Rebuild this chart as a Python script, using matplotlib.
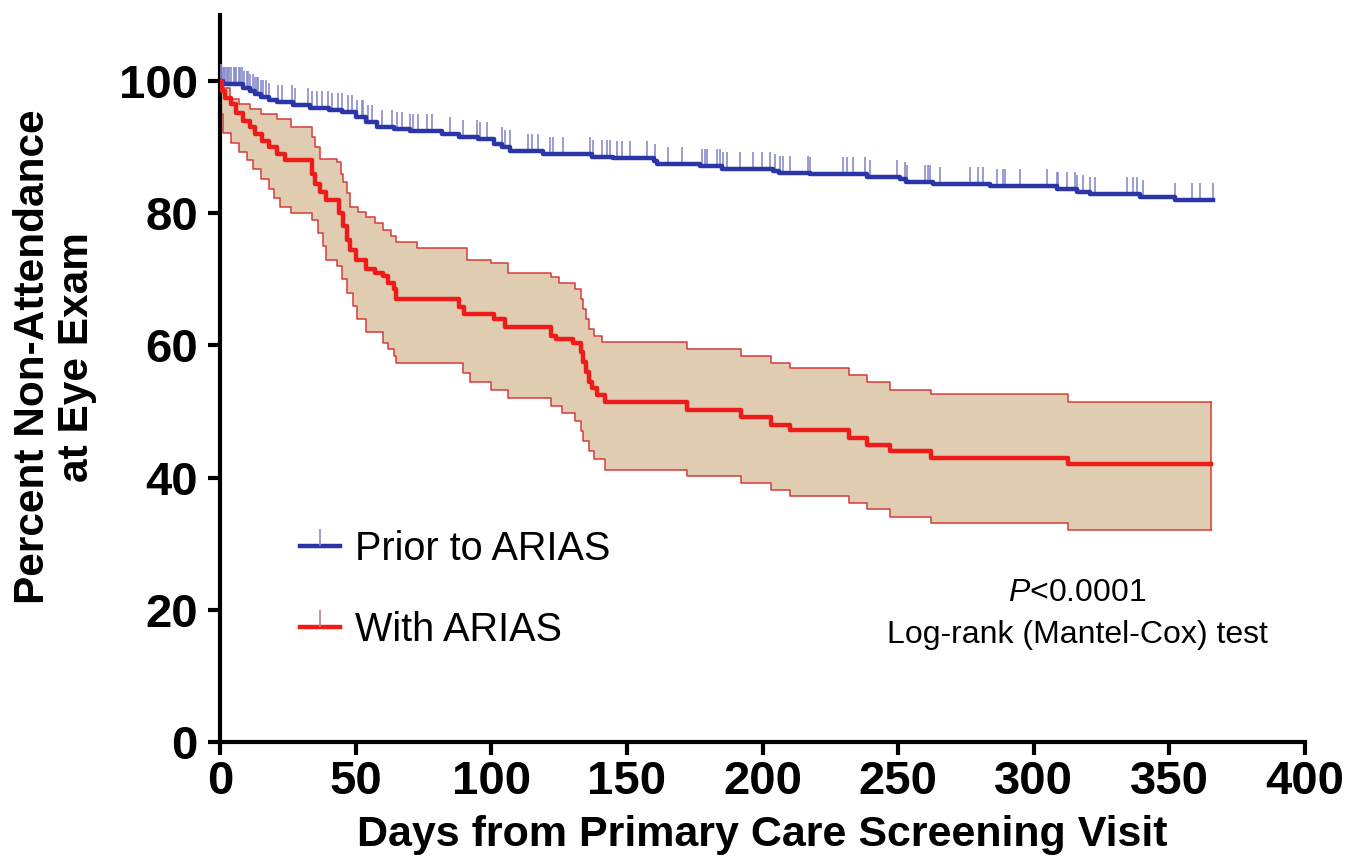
import numpy as np
import matplotlib
matplotlib.use("Agg")
import matplotlib.pyplot as plt
from matplotlib.path import Path
from matplotlib.lines import Line2D

plt.rcParams['font.family'] = ['Liberation Sans', 'DejaVu Sans']
plt.rcParams['mathtext.fontset'] = 'custom'
plt.rcParams['mathtext.it'] = 'Liberation Sans:italic'
plt.rcParams['mathtext.rm'] = 'Liberation Sans'

# ---------------- data ----------------
# Prior to ARIAS (blue) Kaplan-Meier step curve
prior_t = [0, 1, 8.5, 11, 13, 15, 18, 21, 27, 33, 40, 45, 50, 54, 58, 64, 70, 82, 88, 95,
           101, 104, 107, 119, 137, 145, 160, 161, 177, 185, 204, 206, 217.5, 238.5, 250.7,
           253, 263, 284, 308.5, 316, 320.7, 339, 352, 366]
prior_s = [100, 99.5, 99, 98.5, 98, 97.6, 97.2, 96.8, 96.4, 96, 95.6, 95.3, 94.5, 93.8, 93,
           92.7, 92.4, 92, 91.6, 91.2, 90.5, 90, 89.4, 88.9, 88.5, 88.3, 87.9, 87.4, 87.1,
           86.7, 86.4, 86.1, 85.9, 85.5, 85.2, 84.7, 84.4, 84.1, 83.6, 83.2, 82.9, 82.4, 82.0, 82.0]
# censored observations (days) for the blue curve
prior_censor = [0.5, 1, 1.5, 2, 2.5, 3, 3.5, 4, 5, 5.5, 6, 7, 7.5, 8, 9, 10, 10.5, 11, 12, 13,
                13.5, 14, 15, 16, 17, 18, 21.5, 22.7, 26.4, 27.6, 32.6, 33.8, 35.6, 37.5, 39.9,
                41.2, 43.6, 44.9, 47.3, 48.5, 50.4, 52.2, 52.8, 54.7, 55.9, 59.6, 63.3, 65.1,
                67, 70, 71.3, 73.1, 76.2, 78, 84.8, 89.7, 94.6, 95.8, 98.3, 103.8, 105.1, 106.9,
                113.7, 114.9, 117.3, 121.7, 122.9, 126.6, 136.4, 137.6, 140.7, 142.5, 143.8,
                146.2, 148.1, 151.2, 157.3, 160.4, 165.3, 170.2, 177.6, 178.8, 179.4, 183.1,
                184.3, 185.6, 186.8, 191.7, 196.6, 199.7, 202.8, 204.6, 206.5, 207.7, 210.1,
                216.9, 217.5, 229.8, 231, 233.5, 237.8, 239.6, 249.5, 252.5, 253.2, 259.9,
                261.1, 261.8, 265.4, 276.5, 279.6, 281.4, 286.3, 288.8, 289.4, 295, 304.8,
                308.5, 309.1, 312.2, 315.2, 316.1, 318.3, 320.8, 322.6, 334.3, 336.7, 338,
                340.4, 352.1, 358.2, 361.3, 366]

# With ARIAS (red) Kaplan-Meier step curve and 95% CI
with_t = [0, 0.6, 2, 4, 6, 8.6, 11, 13, 15.5, 18, 21, 24, 34, 35, 37, 39, 44, 45.5, 47, 48, 50,
          54, 57, 60, 62, 64, 65, 88, 90, 101, 105, 122, 124, 130, 133, 134, 135, 136, 137,
          139, 142, 172, 192, 203, 210, 232, 238.5, 247, 262, 312.6, 365.5]
with_s = [100, 98.5, 97.5, 96.5, 95.2, 94.0, 93, 92, 91, 90, 89, 88, 86, 84.5, 83.2, 82, 80,
          78, 76, 74.5, 73, 71.5, 71, 70.5, 69.5, 68.5, 67, 65.8, 64.8, 64, 62.8, 61.5, 61,
          60.3, 59, 57.5, 56, 54.5, 53.5, 52.5, 51.4, 50.2, 49.1, 48.0, 47.2, 46.0, 45.0,
          44.1, 43.0, 42.0, 42.0]

upper_t = [0, 1, 3.7, 7, 11, 15, 21, 26, 34, 35, 37, 43, 44.5, 45.5, 47, 48, 51, 54, 57, 60,
           63, 65, 72.6, 91, 100, 106, 122, 125, 131, 133, 134, 135, 136, 138, 141, 172, 192,
           203, 210, 232, 238.5, 247, 262, 312.6, 365.5]
upper_s = [100, 99, 97.3, 96.5, 95.8, 95, 94.2, 93, 91.5, 90, 88.2, 87.7, 86, 84.7, 83, 81,
           80.2, 79.5, 78.5, 77.5, 76.5, 75.6, 74.8, 73, 72.5, 71.0, 70.3, 69.5, 68.5, 67,
           65.5, 64, 62.5, 61.5, 60.5, 59.4, 58.4, 57.4, 56.6, 55.5, 54.5, 53.3, 52.6, 51.4, 51.4]

lower_t = [0, 0.5, 1, 4, 7, 10, 12, 15, 18, 20, 22, 26, 34, 36, 38, 39, 43, 45, 47, 49, 50.5,
           54, 60, 62, 64, 65, 89.6, 92, 100, 106, 122, 126, 131, 133, 134, 136, 138, 142,
           172, 192, 203, 210, 232, 238.5, 247, 262, 312.6, 365.5]
lower_s = [100, 95, 92.2, 90.7, 89.2, 88, 86.7, 85.2, 83.6, 82.3, 81, 80, 79, 77, 75, 73, 72,
           70, 68, 66, 64, 62, 60.4, 59.4, 58.4, 57.4, 55.9, 54.4, 53.3, 52.1, 50.8, 49.8,
           48.5, 47, 45.5, 44, 42.8, 41.2, 40.2, 39.2, 38.2, 37.2, 36.2, 35.2, 34.1, 33.2,
           32.1, 32.1]

series_labels = ["Prior to ARIAS", "With ARIAS"]
x_ticks = [0, 50, 100, 150, 200, 250, 300, 350, 400]
y_ticks = [0, 20, 40, 60, 80, 100]


def step_at(t_steps, s_steps, t_query):
    t_steps = np.asarray(t_steps, float)
    s_steps = np.asarray(s_steps, float)
    i = np.searchsorted(t_steps, np.asarray(t_query, float), side='right') - 1
    return s_steps[np.clip(i, 0, len(s_steps) - 1)]


# ---------------- plot ----------------
W, H = 1362, 867
fig = plt.figure(figsize=(W / 100, H / 100), dpi=100)
ax = fig.add_axes([220 / W, 1 - 742 / H, (1305 - 220) / W, (742 - 15) / H])

blue = '#2a35a8'
red = '#ee1b1b'
band_edge = '#d83a3a'
band_fill = '#e0ccb0'
tick_col = '#8a8ccc'

# upward censor tick marker
tick_marker = Path([(0, 0), (0, 1)], [Path.MOVETO, Path.LINETO])

# CI band on a common time grid
grid = np.union1d(upper_t, lower_t)
ax.fill_between(grid, step_at(lower_t, lower_s, grid), step_at(upper_t, upper_s, grid),
                step='post', facecolor=band_fill, edgecolor='none', zorder=1)
ax.step(upper_t, upper_s, where='post', color=band_edge, lw=1.1, zorder=2)
ax.step(lower_t, lower_s, where='post', color=band_edge, lw=1.1, zorder=2)
ax.plot([upper_t[-1], upper_t[-1]], [lower_s[-1], upper_s[-1]], color=band_edge, lw=1.1, zorder=2)

# censor ticks for prior curve
cens_y = step_at(prior_t, prior_s, prior_censor)
ax.plot(prior_censor, cens_y, linestyle='none', marker=tick_marker, markersize=25,
        markeredgewidth=1.2, color=tick_col, zorder=3)

# curves
ax.step(prior_t, prior_s, where='post', color=blue, lw=3.2, zorder=4)
ax.step(with_t, with_s, where='post', color=red, lw=3.2, zorder=5)

# axes styling
ax.set_xlim(0, 400)
ax.set_ylim(0, 110)
ax.set_xticks(x_ticks)
ax.set_yticks(y_ticks)
for s in ['top', 'right']:
    ax.spines[s].set_visible(False)
for s in ['left', 'bottom']:
    ax.spines[s].set_linewidth(3)
ax.tick_params(axis='both', direction='out', length=9, width=3, labelsize=34, pad=4)
ax.tick_params(axis='y', pad=7)
for lab in ax.get_xticklabels() + ax.get_yticklabels():
    lab.set_fontweight('bold')

ax.set_xlabel("Days from Primary Care Screening Visit", fontsize=31, fontweight='bold', labelpad=8)
fig.text(55 / W, 1 - 357 / H, "Percent Non-Attendance\nat Eye Exam", fontsize=30.5,
         fontweight='bold', rotation=90, ha='center', va='center',
         multialignment='center', linespacing=1.1)

# legend
handles = [Line2D([], [], color=blue, lw=3.2, marker=tick_marker, markersize=25,
                  markeredgewidth=1.2, markeredgecolor=tick_col),
           Line2D([], [], color=red, lw=3.2, marker=tick_marker, markersize=25,
                  markeredgewidth=1.2, markeredgecolor='#c08080')]
leg = ax.legend(handles, series_labels, loc='upper left', frameon=False, fontsize=28.5,
                bbox_to_anchor=(300 / W, 1 - 530 / H), bbox_transform=fig.transFigure,
                borderpad=0, borderaxespad=0, handlelength=1.0, handletextpad=0.38,
                labelspacing=1.09, numpoints=1)

ax.text(1077 / W, 1 - 593 / H, r"$\mathit{P}$<0.0001", transform=fig.transFigure,
        ha='center', va='center', fontsize=23)
ax.text(1077 / W, 1 - 635 / H, "Log-rank (Mantel-Cox) test", transform=fig.transFigure,
        ha='center', va='center', fontsize=23)

fig.savefig("out.png", dpi=100)
